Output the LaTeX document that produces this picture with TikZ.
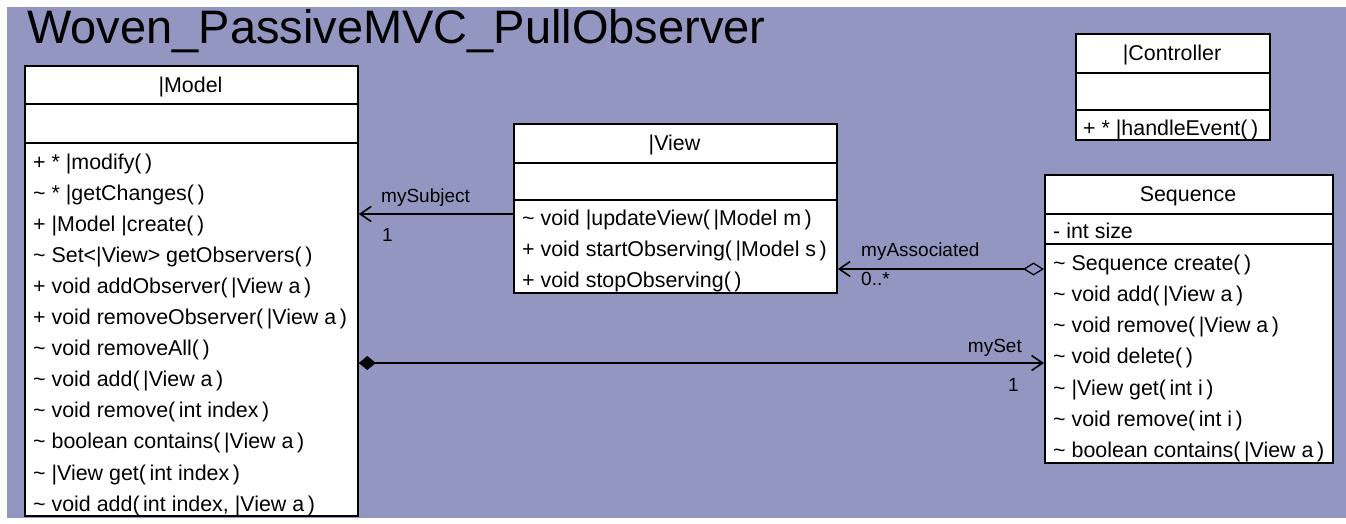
\documentclass[tikz,border=0pt]{standalone}
\usepackage{fontspec}
\setmainfont{Liberation Sans}
\usetikzlibrary{arrows.meta}
\definecolor{bgpurple}{RGB}{147,150,193}
\newcommand\tld{\textasciitilde}
\begin{document}
\begin{tikzpicture}[x=1pt,y=-1pt,
  comp/.style={draw=black, line width=1.8pt, fill=white, anchor=north west, inner sep=0pt},
  row/.style={anchor=base west, inner sep=0pt, font=\fontsize{21.4}{21.4}\selectfont},
  head/.style={anchor=base, inner sep=0pt, font=\fontsize{21.4}{21.4}\selectfont},
  lbl/.style={anchor=base west, inner sep=0pt, font=\fontsize{19}{19}\selectfont},
  link/.style={line width=1.6pt, draw=black},
  barb/.tip={Straight Barb[length=11pt,width=15pt,line width=1.6pt]}
]
\useasboundingbox (0,0) rectangle (1346,523);
\fill[white] (0,0) rectangle (1346,523);
\fill[bgpurple] (7,7) rectangle (1346,518);

% title
\node[anchor=base west, inner sep=0pt, font=\fontsize{47}{47}\selectfont] (title) at (27,43) {Woven\_PassiveMVC\_PullObserver};

% ---------- Model ----------
\node[comp, minimum width=333pt, minimum height=373pt] (modelops) at (24,142) {};
\node[comp, minimum width=333pt, minimum height=39pt] (modelattr) at (24,103) {};
\node[comp, minimum width=333pt, minimum height=38pt] (model) at (24,65) {};
\node[head] (modelname) at (190.5,92) {|Model};
\foreach \t [count=\i from 0] in {
  {+ * |modify(\,)},
  {\tld{} * |getChanges(\,)},
  {+ |Model |create(\,)},
  {\tld{} Set<|View> getObservers(\,)},
  {+ void addObserver(\,|View a\,)},
  {+ void removeObserver(\,|View a\,)},
  {\tld{} void removeAll(\,)},
  {\tld{} void add(\,|View a\,)},
  {\tld{} void remove(\,int index\,)},
  {\tld{} boolean contains(\,|View a\,)},
  {\tld{} |View get(\,int index\,)},
  {\tld{} void add(\,int index, |View a\,)}}
  \node[row] (m\i) at (33,169+\i*31.1) {\t};

% ---------- View ----------
\node[comp, minimum width=323pt, minimum height=93pt] (viewops) at (513,199) {};
\node[comp, minimum width=323pt, minimum height=37pt] (viewattr) at (513,162) {};
\node[comp, minimum width=323pt, minimum height=39pt] (view) at (513,123) {};
\node[head] (viewname) at (674.5,150) {|View};
\node[row] (v0) at (522,225) {\tld{} void |updateView(\,|Model m\,)};
\node[row] (v1) at (522,256) {+ void startObserving(\,|Model s\,)};
\node[row] (v2) at (522,287) {+ void stopObserving(\,)};

% ---------- Controller ----------
\node[comp, minimum width=194pt, minimum height=30pt] (ctrlops) at (1075,109) {};
\node[comp, minimum width=194pt, minimum height=37pt] (ctrlattr) at (1075,72) {};
\node[comp, minimum width=194pt, minimum height=39pt] (ctrl) at (1075,33) {};
\node[head] (ctrlname) at (1172,60) {|Controller};
\node[row] (c0) at (1083,135) {+ * |handleEvent(\,)};

% ---------- Sequence ----------
\node[comp, minimum width=288pt, minimum height=219pt] (seqops) at (1044,243) {};
\node[comp, minimum width=288pt, minimum height=30pt] (seqattr) at (1044,213) {};
\node[comp, minimum width=288pt, minimum height=39pt] (seq) at (1044,174) {};
\node[head] (seqname) at (1188,201) {Sequence};
\node[row] (sa0) at (1053,238) {- int size};
\foreach \t [count=\i from 0] in {
  {\tld{} Sequence create(\,)},
  {\tld{} void add(\,|View a\,)},
  {\tld{} void remove(\,|View a\,)},
  {\tld{} void delete(\,)},
  {\tld{} |View get(\,int i\,)},
  {\tld{} void remove(\,int i\,)},
  {\tld{} boolean contains(\,|View a\,)}}
  \node[row] (s\i) at (1053,270+\i*31.3) {\t};

% ---------- connectors ----------
\draw[link, -barb] (viewops.west |- 0,214) -- (modelops.east |- 0,214);
\draw[link, {Diamond[open,length=21pt,width=13pt,line width=1.3pt]}-barb] (seqops.west |- 0,269) -- (viewops.east |- 0,269);
\draw[link, {Diamond[length=17pt,width=14pt]}-barb] (modelops.east |- 0,363) -- (seqops.west |- 0,363);

% ---------- labels ----------
\node[lbl] (lsub) at (381,202) {mySubject};
\node[lbl] (lsubm) at (382,241) {1};
\node[lbl] (lassoc) at (861,256) {myAssociated};
\node[lbl] (lassocm) at (861,285) {0..*};
\node[lbl, anchor=base east] (lset) at (1022,352) {mySet};
\node[lbl, anchor=base east] (lsetm) at (1019,391) {1};
\end{tikzpicture}
\end{document}
